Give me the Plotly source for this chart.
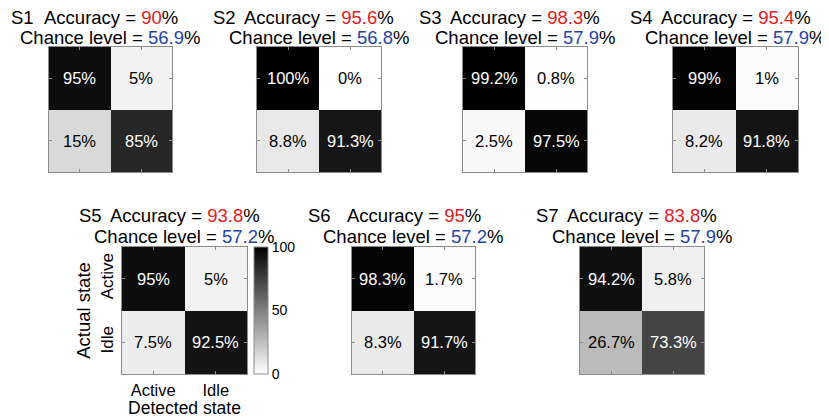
import plotly.graph_objects as go

# data
subjects = ["S1", "S2", "S3", "S4", "S5", "S6", "S7"]
accuracy = [90, 95.6, 98.3, 95.4, 93.8, 95, 83.8]
chance_level = [56.9, 56.8, 57.9, 57.9, 57.2, 57.2, 57.9]
states = ["Active", "Idle"]
# rows = actual state, columns = detected state (percent)
confusion = [
    [[95, 5], [15, 85]],
    [[100, 0], [8.8, 91.3]],
    [[99.2, 0.8], [2.5, 97.5]],
    [[99, 1], [8.2, 91.8]],
    [[95, 5], [7.5, 92.5]],
    [[98.3, 1.7], [8.3, 91.7]],
    [[94.2, 5.8], [26.7, 73.3]],
]
cbar_ticks = [0, 50, 100]

# the page body has an 8px margin, so the figure starts at (8, 8)
OFF = 8
W, H = 829 - OFF, 418 - OFF
FONT = "Liberation Sans, Arial, sans-serif"
EDGE = "#8c8c8c"
RED = "#e31a1c"
BLUE = "#1f45a8"

# panel boxes in page pixels: left, right, top, bottom
boxes = [
    (49, 172, 47, 172),
    (257, 381, 47, 172),
    (463, 587, 47, 172),
    (673, 798, 47, 172),
    (122, 247, 247, 374),
    (352, 475, 247, 374),
    (580, 704, 247, 374),
]


def px_x(v):
    return (v - OFF) / W


def px_y(v):
    return 1 - (v - OFF) / H


fig = go.Figure()
annotations = []

for i, (name, acc, ch, z) in enumerate(zip(subjects, accuracy, chance_level, confusion)):
    n = "" if i == 0 else str(i + 1)
    l, r, t, b = boxes[i]
    labelled = name == "S5"

    trace = go.Heatmap(
        z=z, x=states, y=states,
        xaxis="x" + n, yaxis="y" + n,
        colorscale=[[0, "white"], [1, "black"]],
        zmin=0, zmax=100,
        showscale=labelled,
        hoverinfo="skip",
    )
    if labelled:
        trace.colorbar = dict(
            x=px_x(254), xanchor="left", y=px_y((t + b) / 2), yanchor="middle",
            thickness=14, thicknessmode="pixels",
            len=b - t, lenmode="pixels",
            xpad=0, ypad=0,
            outlinecolor=EDGE, outlinewidth=1,
            tickvals=cbar_ticks, ticks="inside", ticklen=3, tickcolor=EDGE,
            tickfont=dict(family=FONT, size=14, color="black"),
        )
    fig.add_trace(trace)

    common = dict(
        showline=True, linecolor=EDGE, linewidth=1, mirror="ticks",
        ticks="inside", ticklen=3, tickcolor=EDGE,
        showgrid=False, zeroline=False, fixedrange=True,
        tickfont=dict(family=FONT, size=16.5, color="black"),
        showticklabels=labelled,
    )
    xa = dict(common, domain=[px_x(l), px_x(r)], anchor="y" + n, ticklabelstandoff=1)
    ya = dict(common, domain=[px_y(b), px_y(t)], anchor="x" + n,
              autorange="reversed", tickangle=-90, ticklabelstandoff=1,
              tickfont=dict(family=FONT, size=17, color="black"))
    if labelled:
        xa["title"] = dict(text="Detected state", standoff=3,
                           font=dict(family=FONT, size=17.5, color="black"))
        ya["title"] = dict(text="Actual state", standoff=2,
                           font=dict(family=FONT, size=18.5, color="black"))
    fig.layout["xaxis" + n] = xa
    fig.layout["yaxis" + n] = ya

    # cell values
    for ri, row in enumerate(z):
        for ci, v in enumerate(row):
            annotations.append(dict(
                x=states[ci], y=states[ri], xref="x" + n, yref="y" + n,
                text=f"{v:g}%", showarrow=False,
                font=dict(family=FONT, size=16.5, color="white" if v > 50 else "black"),
            ))

    # two-line title (top row nudged down a little so it stays inside the figure)
    cx = (l + r) / 2
    line1 = 17 if i < 4 else t - 32
    line2 = 38 if i < 4 else t - 11
    annotations.append(dict(
        x=px_x(max(cx - 108, OFF + 1)), y=px_y(line1), xref="paper", yref="paper",
        xanchor="left", yanchor="middle", text=name, showarrow=False,
        font=dict(family=FONT, size=18.5, color="black"),
    ))
    annotations.append(dict(
        x=px_x(cx), y=px_y(line1), xref="paper", yref="paper",
        xanchor="center", yanchor="middle", showarrow=False,
        text=f"Accuracy = <span style='color:{RED}'>{acc:g}</span>%",
        font=dict(family=FONT, size=18.5, color="black"),
    ))
    annotations.append(dict(
        x=px_x(cx), y=px_y(line2), xref="paper", yref="paper",
        xanchor="center", yanchor="middle", showarrow=False,
        text=f"Chance level = <span style='color:{BLUE}'>{ch:g}</span>%",
        font=dict(family=FONT, size=18.5, color="black"),
    ))

fig.update_layout(
    width=W, height=H,
    margin=dict(l=0, r=0, t=0, b=0),
    paper_bgcolor="white", plot_bgcolor="white",
    font=dict(family=FONT, color="black"),
    annotations=annotations,
    showlegend=False,
)

fig.write_html("out.html")
